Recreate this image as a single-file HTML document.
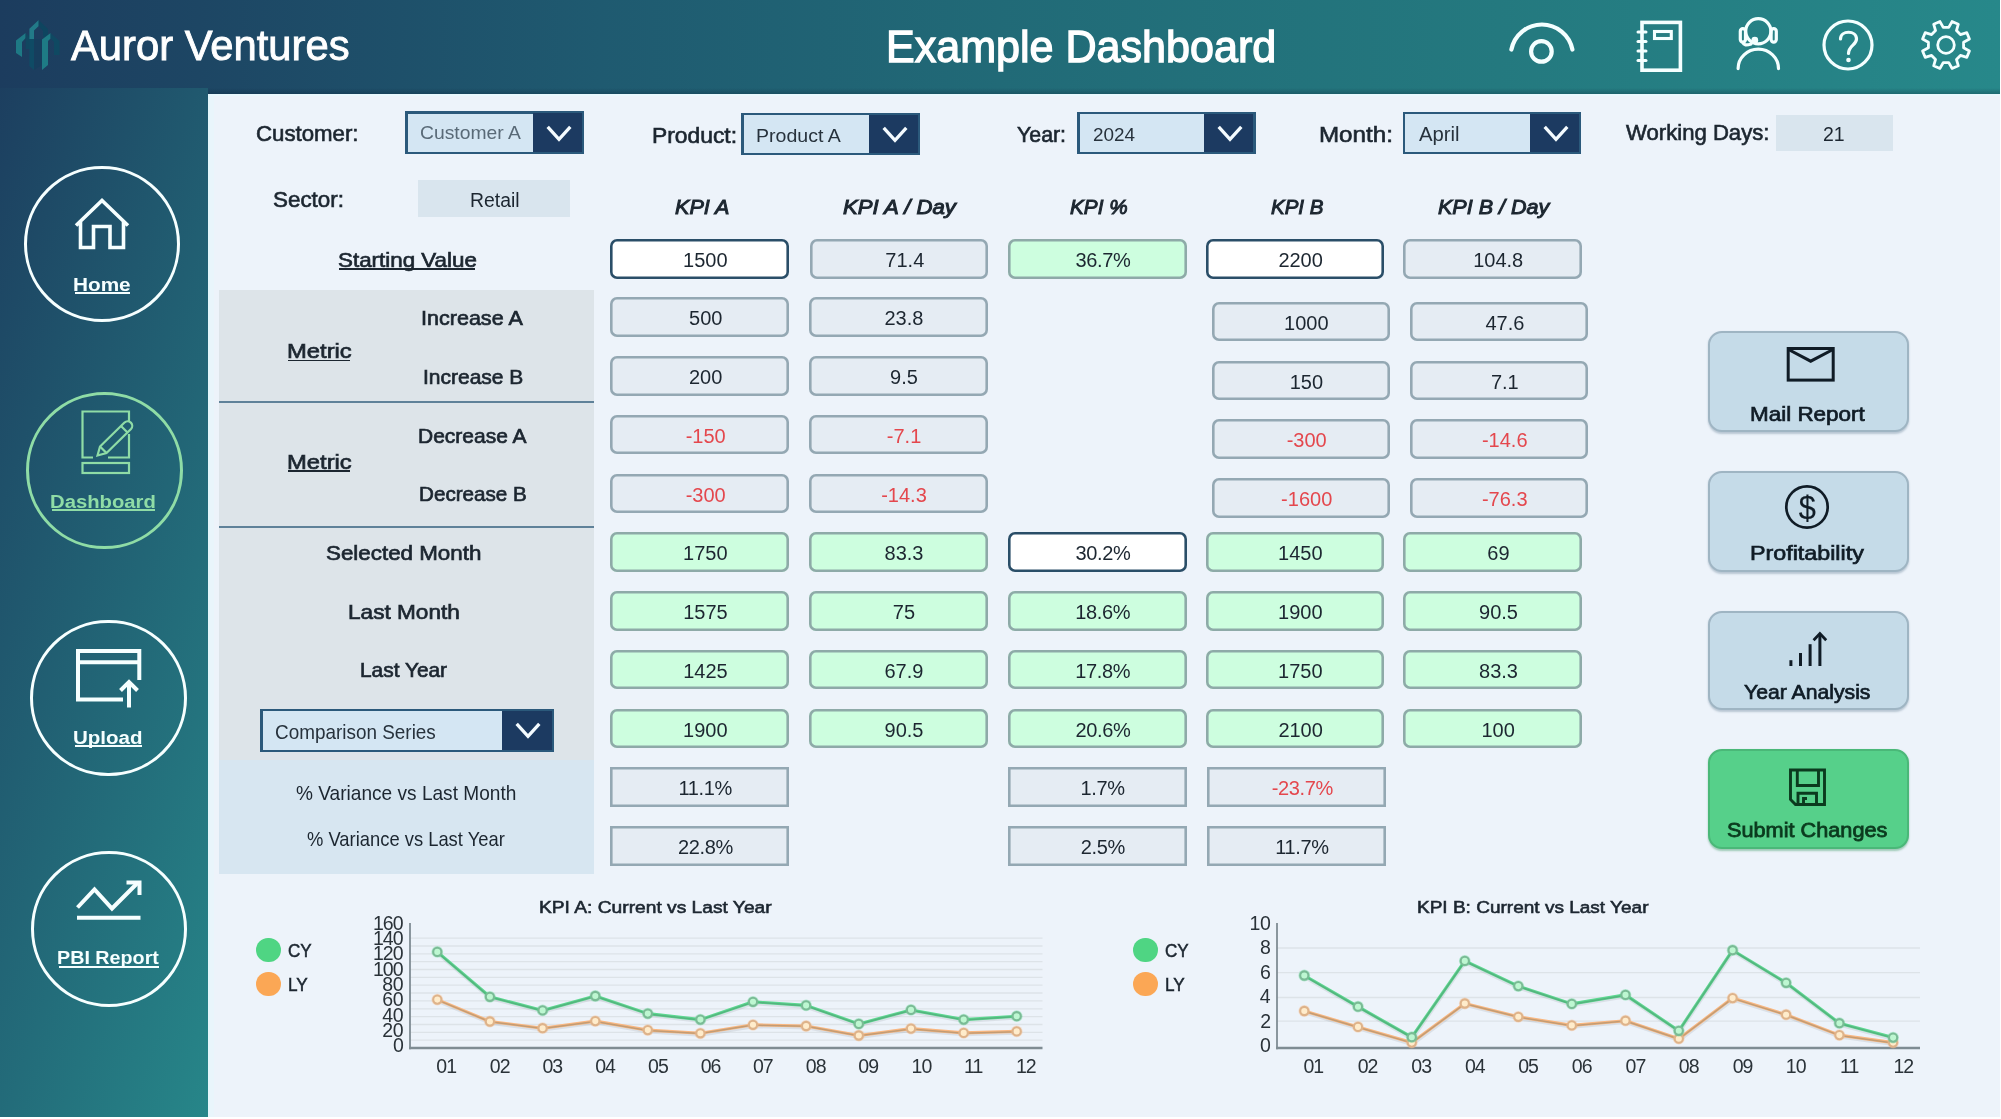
<!DOCTYPE html>
<html lang="en"><head><meta charset="utf-8"><title>Example Dashboard</title>
<style>
html,body{margin:0;padding:0;background:#fff;}
body{width:2001px;height:1119px;position:relative;overflow:hidden;font-family:"Liberation Sans", sans-serif;}
.r{position:absolute;box-sizing:content-box;}
.t{position:absolute;white-space:nowrap;font-family:"Liberation Sans", sans-serif;}
</style></head><body><div id="app" style="position:absolute;left:0;top:0;width:2001px;height:1119px;filter:blur(0.55px);">
<div class="r" style="left:208.00px;top:93.00px;width:1792.00px;height:1024.00px;background:#edf3fa;"></div>
<div class="r" style="left:0;top:0;width:2000px;height:93.5px;background:linear-gradient(90deg,#1c3c5e 0%,#1f5a70 30%,#216a77 50%,#24797f 75%,#27888a 100%)"></div>
<div class="r" style="left:0;top:88px;width:208px;height:1029px;background:linear-gradient(108.8deg,#1c3c5e -3.8%,#27888a 102.7%)"></div>
<div class="r" style="left:208px;top:88px;width:1792px;height:5.5px;background:linear-gradient(180deg,rgba(8,30,50,0) 0%,rgba(8,30,50,.28) 100%)"></div>
<div class="r" style="left:208.00px;top:93.50px;width:1792.00px;height:2.00px;background:#e9f8fd;"></div>
<div class="r" style="left:208.00px;top:93.50px;width:2.00px;height:1023.50px;background:#e4f6fb;"></div>
<div class="r" style="left:210.00px;top:95.50px;width:4.00px;height:1021.50px;background:#e9f5fb;"></div>
<svg class="r" style="left:16.00px;top:19.00px;filter:blur(0.7px);opacity:.93;" width="46" height="54" viewBox="0 0 46 54">
<polygon points="0,21.5 9.6,14 9.6,19 6,23 6,38 0,34" fill="#1f7e88"/>
<polygon points="9.6,14 14,18 14,30 9.6,30" fill="#0f4a62" opacity="0.9"/>
<polygon points="13.4,9.7 22.7,1 22.7,7 18,11.5 18,20 13.4,20" fill="#237f8c"/>
<polygon points="13.4,20 18,20 18,51 13.4,47" fill="#0f4d66"/>
<polygon points="22.7,1 32,10 32,22 27,17 27,12 22.7,7" fill="#0e4660"/>
<polygon points="18,20 26,20 26,46 18,51" fill="#123f5c" opacity="0.6"/>
<polygon points="26,20.4 34.6,14 34.6,19.5 32,22 32,46 26,51" fill="#1f8088"/>
<polygon points="34.6,14 43.5,22 43.5,36 38,36 38,23 34.6,19.5" fill="#0f4a63"/>
</svg>
<span class="t" style="left:71.03px;top:20.80px;font-size:42.7px;line-height:48px;color:#ffffff;-webkit-text-stroke:0.9px #ffffff;transform:scaleX(0.9781);transform-origin:0 50%;">Auror Ventures</span>
<span class="t" style="left:885.53px;top:23.00px;font-size:43.5px;line-height:48px;color:#ffffff;-webkit-text-stroke:1.3px #ffffff;transform:scaleX(0.9900);transform-origin:0 50%;">Example Dashboard</span>
<svg class="r" style="left:1505.50px;top:20.00px;" width="72" height="50" viewBox="0 0 72 50"><path d="M 5.4 29.5 A 31.1 31.1 0 0 1 66.4 29.5" fill="none" stroke="#f4ffff" stroke-width="4.2" stroke-linecap="round"/>
<circle cx="35.4" cy="31.4" r="10.3" fill="none" stroke="#f4ffff" stroke-width="4.2"/></svg>
<svg class="r" style="left:1636.00px;top:20.00px;" width="50" height="54" viewBox="0 0 50 54"><rect x="6" y="2.4" width="38.4" height="47.8" fill="none" stroke="#f4ffff" stroke-width="3.6"/>
<rect x="18.5" y="11.5" width="16.8" height="7" fill="none" stroke="#f4ffff" stroke-width="3.1"/>
<g stroke="#f4ffff" stroke-width="3" stroke-linecap="round"><line x1="2" y1="12" x2="10" y2="12"/><line x1="2" y1="21.4" x2="10" y2="21.4"/><line x1="2" y1="31" x2="10" y2="31"/><line x1="2" y1="40.5" x2="10" y2="40.5"/></g></svg>
<svg class="r" style="left:1734.00px;top:16.00px;" width="50" height="56" viewBox="0 0 50 56"><g fill="none" stroke="#f4ffff" stroke-width="3.2" stroke-linecap="round">
<circle cx="24.3" cy="15.3" r="12.6"/>
<rect x="6.3" y="12.6" width="5.2" height="13.6" rx="2.6"/>
<rect x="37.1" y="12.6" width="5.2" height="13.6" rx="2.6"/>
<path d="M 9 26.5 Q 10 30.5 17 28"/>
<path d="M 4.1 52.6 A 20.2 19.4 0 0 1 44.5 52.6"/>
</g><circle cx="20.8" cy="24.2" r="3.4" fill="#f4ffff"/></svg>
<svg class="r" style="left:1820.50px;top:17.50px;" width="54" height="54" viewBox="0 0 54 54"><circle cx="27" cy="27" r="24" fill="none" stroke="#f4ffff" stroke-width="3.2"/>
<path d="M 19.5 21 C 19.5 12 35.5 12 35.5 21 C 35.5 27 27.5 27.5 27.5 35.5" fill="none" stroke="#f4ffff" stroke-width="3.2" stroke-linecap="round"/>
<circle cx="27.5" cy="42" r="2.3" fill="#f4ffff"/></svg>
<svg class="r" style="left:1918.80px;top:17.50px;" width="54" height="54" viewBox="0 0 54 54"><polygon points="29.78,9.42 33.02,3.56 39.32,6.17 37.46,12.60 41.40,16.54 47.83,14.68 50.44,20.98 44.58,24.22 44.58,29.78 50.44,33.02 47.83,39.32 41.40,37.46 37.46,41.40 39.32,47.83 33.02,50.44 29.78,44.58 24.22,44.58 20.98,50.44 14.68,47.83 16.54,41.40 12.60,37.46 6.17,39.32 3.56,33.02 9.42,29.78 9.42,24.22 3.56,20.98 6.17,14.68 12.60,16.54 16.54,12.60 14.68,6.17 20.98,3.56 24.22,9.42" fill="none" stroke="#f4ffff" stroke-width="2.8" stroke-linejoin="round"/>
<circle cx="27" cy="27" r="8.3" fill="none" stroke="#f4ffff" stroke-width="2.8"/></svg>
<div class="r" style="left:24.40px;top:165.50px;width:150.00px;height:150.00px;border:3px solid #f6ffff;border-radius:156px;"></div>
<svg class="r" style="left:73.00px;top:197.50px;" width="58" height="54" viewBox="0 0 58 54"><path d="M 3 27.5 L 29 2.5 L 55 27.5 M 7.5 24 L 7.5 49.5 L 20.5 49.5 L 20.5 28.5 L 37 28.5 L 37 49.5 L 50.5 49.5 L 50.5 24" fill="none" stroke="#f6ffff" stroke-width="3.6" stroke-linejoin="miter" stroke-linecap="butt"/></svg>
<span class="t" style="left:73.29px;top:273.60px;font-size:19.2px;line-height:21px;color:#f6ffff;font-weight:bold;transform:scaleX(1.0816);transform-origin:0 50%;">Home</span>
<div class="r" style="left:74.70px;top:292.20px;width:55.70px;height:1.80px;background:#f6ffff"></div>
<div class="r" style="left:25.50px;top:392.30px;width:151.00px;height:151.00px;border:3px solid #8fdca6;border-radius:157px;"></div>
<svg class="r" style="left:81.00px;top:409.50px;" width="56" height="66" viewBox="0 0 56 66"><g fill="none" stroke="#8fdca6" stroke-width="2.2">
<path d="M 48 12 L 48 1.5 L 1.5 1.5 L 1.5 47.5 L 12 47.5 M 27 47.5 L 48 47.5 L 48 24"/>
<rect x="1.5" y="53" width="46.5" height="10"/>
<path d="M 16.5 45.5 L 19 36.5 L 43.5 12.5 A 4.6 4.6 0 0 1 50 19 L 25.5 43 Z"/>
<path d="M 19 36.5 L 25.5 43 M 40 16 L 46.5 22.5"/>
</g></svg>
<span class="t" style="left:50.43px;top:490.70px;font-size:19.2px;line-height:21px;color:#8fdca6;font-weight:bold;transform:scaleX(1.0561);transform-origin:0 50%;">Dashboard</span>
<div class="r" style="left:51.80px;top:509.30px;width:103.50px;height:1.80px;background:#8fdca6"></div>
<div class="r" style="left:30.20px;top:619.70px;width:150.60px;height:150.60px;border:3px solid #f6ffff;border-radius:156.6px;"></div>
<svg class="r" style="left:75.90px;top:648.70px;" width="68" height="62" viewBox="0 0 68 62"><g fill="none" stroke="#f6ffff" stroke-width="4" stroke-linecap="butt">
<path d="M 47 50.6 L 2 50.6 L 2 2 L 63.3 2 L 63.3 31"/>
<path d="M 2 13.2 L 63.3 13.2"/>
<path d="M 53 58.5 L 53 34"/>
<path d="M 44.5 41.5 L 53 33 L 61.5 41.5" stroke-linejoin="miter"/>
</g></svg>
<span class="t" style="left:73.44px;top:726.50px;font-size:19.2px;line-height:21px;color:#f6ffff;font-weight:bold;transform:scaleX(1.0693);transform-origin:0 50%;">Upload</span>
<div class="r" style="left:74.70px;top:745.30px;width:67.10px;height:1.80px;background:#f6ffff"></div>
<div class="r" style="left:30.50px;top:850.60px;width:150.00px;height:150.00px;border:3px solid #f6ffff;border-radius:156px;"></div>
<svg class="r" style="left:75.50px;top:878.00px;" width="68" height="46" viewBox="0 0 68 46"><g fill="none" stroke="#f6ffff" stroke-width="4" stroke-linecap="butt">
<path d="M 1 39.7 L 64.5 39.7"/>
<path d="M 1.5 29.5 L 18.5 11.5 L 36 30.5 L 61.5 5" stroke-linejoin="miter"/>
<path d="M 50.5 4.5 L 63.5 4.5 L 63.5 17" stroke-linejoin="miter"/>
</g></svg>
<span class="t" style="left:57.26px;top:947.10px;font-size:19.2px;line-height:21px;color:#f6ffff;font-weight:bold;transform:scaleX(1.0276);transform-origin:0 50%;">PBI Report</span>
<div class="r" style="left:58.60px;top:965.90px;width:100.70px;height:1.80px;background:#f6ffff"></div>
<span class="t" style="left:256.37px;top:121.00px;font-size:22.6px;line-height:25px;color:#1c2630;-webkit-text-stroke:0.65px #1c2630;transform:scaleX(0.9839);transform-origin:0 50%;">Customer:</span>
<div class="r" style="left:405.30px;top:111.00px;width:178.90px;height:43.00px;background:#2b597b;"></div>
<div class="r" style="left:407.80px;top:113.50px;width:173.90px;height:38.00px;background:#d4e6f3;"></div>
<div class="r" style="left:533.00px;top:113.00px;width:49.20px;height:39.00px;background:#1c3a61;"></div>
<svg class="r" style="left:542.90px;top:120.70px;" width="32" height="24" viewBox="0 0 32 24"><path d="M 4.7 5.9 L 16 18.3 L 27.3 5.9" fill="none" stroke="#f4fbff" stroke-width="3.3" stroke-linecap="butt" stroke-linejoin="miter"/></svg>
<span class="t" style="left:419.57px;top:122.00px;font-size:18.6px;line-height:21px;color:#596a77;transform:scaleX(1.0376);transform-origin:0 50%;">Customer A</span>
<span class="t" style="left:651.83px;top:122.50px;font-size:22.6px;line-height:25px;color:#1c2630;-webkit-text-stroke:0.65px #1c2630;transform:scaleX(1.0109);transform-origin:0 50%;">Product:</span>
<div class="r" style="left:741.00px;top:112.50px;width:178.80px;height:42.50px;background:#2b597b;"></div>
<div class="r" style="left:743.50px;top:115.00px;width:173.80px;height:37.50px;background:#d4e6f3;"></div>
<div class="r" style="left:869.00px;top:114.50px;width:48.80px;height:38.50px;background:#1c3a61;"></div>
<svg class="r" style="left:878.70px;top:121.95px;" width="32" height="24" viewBox="0 0 32 24"><path d="M 4.7 5.9 L 16 18.3 L 27.3 5.9" fill="none" stroke="#f4fbff" stroke-width="3.3" stroke-linecap="butt" stroke-linejoin="miter"/></svg>
<span class="t" style="left:756.49px;top:125.20px;font-size:19.2px;line-height:21px;color:#27323c;transform:scaleX(1.0190);transform-origin:0 50%;">Product A</span>
<span class="t" style="left:1016.50px;top:122.00px;font-size:22.6px;line-height:25px;color:#1c2630;-webkit-text-stroke:0.65px #1c2630;transform:scaleX(0.9444);transform-origin:0 50%;">Year:</span>
<div class="r" style="left:1077.00px;top:111.50px;width:178.50px;height:42.50px;background:#2b597b;"></div>
<div class="r" style="left:1079.50px;top:114.00px;width:173.50px;height:37.50px;background:#d4e6f3;"></div>
<div class="r" style="left:1204.20px;top:113.50px;width:49.30px;height:38.50px;background:#1c3a61;"></div>
<svg class="r" style="left:1214.15px;top:120.95px;" width="32" height="24" viewBox="0 0 32 24"><path d="M 4.7 5.9 L 16 18.3 L 27.3 5.9" fill="none" stroke="#f4fbff" stroke-width="3.3" stroke-linecap="butt" stroke-linejoin="miter"/></svg>
<span class="t" style="left:1093.01px;top:123.80px;font-size:19px;line-height:21px;color:#27323c;transform:scaleX(0.9939);transform-origin:0 50%;">2024</span>
<span class="t" style="left:1318.97px;top:122.00px;font-size:22.6px;line-height:25px;color:#1c2630;-webkit-text-stroke:0.65px #1c2630;transform:scaleX(1.0690);transform-origin:0 50%;">Month:</span>
<div class="r" style="left:1402.50px;top:111.50px;width:178.70px;height:42.50px;background:#2b597b;"></div>
<div class="r" style="left:1405.00px;top:114.00px;width:173.70px;height:37.50px;background:#d4e6f3;"></div>
<div class="r" style="left:1530.00px;top:113.50px;width:49.20px;height:38.50px;background:#1c3a61;"></div>
<svg class="r" style="left:1539.90px;top:120.95px;" width="32" height="24" viewBox="0 0 32 24"><path d="M 4.7 5.9 L 16 18.3 L 27.3 5.9" fill="none" stroke="#f4fbff" stroke-width="3.3" stroke-linecap="butt" stroke-linejoin="miter"/></svg>
<span class="t" style="left:1418.85px;top:123.50px;font-size:19.3px;line-height:21px;color:#27323c;transform:scaleX(1.0523);transform-origin:0 50%;">April</span>
<span class="t" style="left:1625.85px;top:120.00px;font-size:22.6px;line-height:25px;color:#1c2630;-webkit-text-stroke:0.65px #1c2630;transform:scaleX(0.9792);transform-origin:0 50%;">Working Days:</span>
<div class="r" style="left:1775.70px;top:114.50px;width:117.60px;height:36.50px;background:#d9e5ee;"></div>
<span class="t" style="left:1822.88px;top:122.75px;font-size:19.5px;line-height:22px;color:#1c2630;">21</span>
<span class="t" style="left:273.48px;top:187.00px;font-size:22.6px;line-height:25px;color:#1c2630;-webkit-text-stroke:0.65px #1c2630;transform:scaleX(0.9909);transform-origin:0 50%;">Sector:</span>
<div class="r" style="left:418.00px;top:179.50px;width:152.00px;height:37.50px;background:#d9e5ee;"></div>
<span class="t" style="left:469.58px;top:189.00px;font-size:19.5px;line-height:22px;color:#1c2630;transform:scaleX(0.9941);transform-origin:0 50%;">Retail</span>
<span class="t" style="left:674.87px;top:196.00px;font-size:20.4px;line-height:22px;color:#1c2630;font-style:italic;-webkit-text-stroke:1.0px #1c2630;transform:scaleX(1.0579);transform-origin:0 50%;">KPI A</span>
<span class="t" style="left:843.10px;top:196.00px;font-size:20.4px;line-height:22px;color:#1c2630;font-style:italic;-webkit-text-stroke:1.0px #1c2630;transform:scaleX(1.0863);transform-origin:0 50%;">KPI A / Day</span>
<span class="t" style="left:1070.39px;top:196.00px;font-size:20.4px;line-height:22px;color:#1c2630;font-style:italic;-webkit-text-stroke:1.0px #1c2630;transform:scaleX(1.0159);transform-origin:0 50%;">KPI %</span>
<span class="t" style="left:1271.40px;top:196.00px;font-size:20.4px;line-height:22px;color:#1c2630;font-style:italic;-webkit-text-stroke:1.0px #1c2630;transform:scaleX(1.0049);transform-origin:0 50%;">KPI B</span>
<span class="t" style="left:1438.07px;top:196.00px;font-size:20.4px;line-height:22px;color:#1c2630;font-style:italic;-webkit-text-stroke:1.0px #1c2630;transform:scaleX(1.0553);transform-origin:0 50%;">KPI B / Day</span>
<div class="r" style="left:218.60px;top:289.50px;width:375.40px;height:470.80px;background:#dde4e9;"></div>
<div class="r" style="left:218.60px;top:760.30px;width:375.40px;height:113.40px;background:#d7e6f1;"></div>
<div class="r" style="left:218.60px;top:400.80px;width:375.40px;height:2.20px;background:#5f8199;"></div>
<div class="r" style="left:218.60px;top:525.80px;width:375.40px;height:2.20px;background:#5f8199;"></div>
<span class="t" style="left:337.63px;top:249.00px;font-size:20.4px;line-height:22px;color:#1c2630;-webkit-text-stroke:0.68px #1c2630;transform:scaleX(1.0977);transform-origin:0 50%;">Starting Value</span>
<div class="r" style="left:338.70px;top:268.20px;width:136.80px;height:1.60px;background:#1c2630"></div>
<span class="t" style="left:421.45px;top:306.50px;font-size:20.4px;line-height:22px;color:#1c2630;-webkit-text-stroke:0.68px #1c2630;transform:scaleX(1.0564);transform-origin:0 50%;">Increase A</span>
<span class="t" style="left:422.50px;top:366.40px;font-size:20.4px;line-height:22px;color:#1c2630;-webkit-text-stroke:0.68px #1c2630;transform:scaleX(1.0296);transform-origin:0 50%;">Increase B</span>
<span class="t" style="left:286.53px;top:340.10px;font-size:20.4px;line-height:22px;color:#1c2630;-webkit-text-stroke:0.68px #1c2630;transform:scaleX(1.1662);transform-origin:0 50%;">Metric</span>
<div class="r" style="left:288.40px;top:359.50px;width:62.10px;height:1.60px;background:#1c2630"></div>
<span class="t" style="left:417.95px;top:424.70px;font-size:20.4px;line-height:22px;color:#1c2630;-webkit-text-stroke:0.68px #1c2630;transform:scaleX(1.0297);transform-origin:0 50%;">Decrease A</span>
<span class="t" style="left:419.08px;top:483.10px;font-size:20.4px;line-height:22px;color:#1c2630;-webkit-text-stroke:0.68px #1c2630;transform:scaleX(1.0120);transform-origin:0 50%;">Decrease B</span>
<span class="t" style="left:286.53px;top:451.00px;font-size:20.4px;line-height:22px;color:#1c2630;-webkit-text-stroke:0.68px #1c2630;transform:scaleX(1.1662);transform-origin:0 50%;">Metric</span>
<div class="r" style="left:288.40px;top:470.40px;width:62.10px;height:1.60px;background:#1c2630"></div>
<span class="t" style="left:326.33px;top:542.40px;font-size:20.4px;line-height:22px;color:#1c2630;-webkit-text-stroke:0.68px #1c2630;transform:scaleX(1.0966);transform-origin:0 50%;">Selected Month</span>
<span class="t" style="left:347.73px;top:600.60px;font-size:20.4px;line-height:22px;color:#1c2630;-webkit-text-stroke:0.68px #1c2630;transform:scaleX(1.1086);transform-origin:0 50%;">Last Month</span>
<span class="t" style="left:359.76px;top:659.00px;font-size:20.4px;line-height:22px;color:#1c2630;-webkit-text-stroke:0.68px #1c2630;transform:scaleX(1.0238);transform-origin:0 50%;">Last Year</span>
<div class="r" style="left:260.00px;top:708.50px;width:293.50px;height:43.50px;background:#2b597b;"></div>
<div class="r" style="left:262.50px;top:711.00px;width:288.50px;height:38.50px;background:#d4e6f3;"></div>
<div class="r" style="left:502.00px;top:710.50px;width:49.50px;height:39.50px;background:#1c3a61;"></div>
<svg class="r" style="left:512.05px;top:718.45px;" width="32" height="24" viewBox="0 0 32 24"><path d="M 4.7 5.9 L 16 18.3 L 27.3 5.9" fill="none" stroke="#f4fbff" stroke-width="3.3" stroke-linecap="butt" stroke-linejoin="miter"/></svg>
<span class="t" style="left:275.42px;top:720.70px;font-size:20.2px;line-height:22px;color:#27323c;transform:scaleX(0.9368);transform-origin:0 50%;">Comparison Series</span>
<span class="t" style="left:296.04px;top:781.60px;font-size:20.2px;line-height:22px;color:#1c2630;transform:scaleX(0.9455);transform-origin:0 50%;">% Variance vs Last Month</span>
<span class="t" style="left:307.17px;top:828.40px;font-size:20.2px;line-height:22px;color:#1c2630;transform:scaleX(0.9102);transform-origin:0 50%;">% Variance vs Last Year</span>
<div class="r" style="left:610.30px;top:239.00px;width:178.90px;height:39.60px;background:#ffffff;border-radius:7px;box-shadow:inset 0 0 0 2.6px #2a4e68;"></div>
<span class="t" style="left:683.12px;top:249.00px;font-size:20px;line-height:22px;color:#1c2630;">1500</span>
<div class="r" style="left:809.50px;top:239.00px;width:178.90px;height:39.60px;background:#e5ecf3;border-radius:7px;box-shadow:inset 0 0 0 2.6px #94a8b3;"></div>
<span class="t" style="left:885.33px;top:249.00px;font-size:20px;line-height:22px;color:#1c2630;">71.4</span>
<div class="r" style="left:1008.00px;top:239.00px;width:178.50px;height:39.60px;background:#cdfedf;border-radius:7px;box-shadow:inset 0 0 0 2.6px #8eaaa8;"></div>
<span class="t" style="left:1075.58px;top:249.00px;font-size:20px;line-height:22px;color:#1c2630;letter-spacing:-0.350px;">36.7%</span>
<div class="r" style="left:1205.50px;top:239.00px;width:178.50px;height:39.60px;background:#ffffff;border-radius:7px;box-shadow:inset 0 0 0 2.6px #2a4e68;"></div>
<span class="t" style="left:1278.38px;top:249.00px;font-size:20px;line-height:22px;color:#1c2630;">2200</span>
<div class="r" style="left:1403.00px;top:239.00px;width:179.00px;height:39.60px;background:#e5ecf3;border-radius:7px;box-shadow:inset 0 0 0 2.6px #94a8b3;"></div>
<span class="t" style="left:1473.19px;top:249.00px;font-size:20px;line-height:22px;color:#1c2630;">104.8</span>
<div class="r" style="left:610.30px;top:297.20px;width:178.90px;height:39.60px;background:#e5ecf3;border-radius:7px;box-shadow:inset 0 0 0 2.6px #94a8b3;"></div>
<span class="t" style="left:689.06px;top:307.20px;font-size:20px;line-height:22px;color:#1c2630;">500</span>
<div class="r" style="left:808.50px;top:297.20px;width:179.00px;height:39.60px;background:#e5ecf3;border-radius:7px;box-shadow:inset 0 0 0 2.6px #94a8b3;"></div>
<span class="t" style="left:884.50px;top:307.20px;font-size:20px;line-height:22px;color:#1c2630;">23.8</span>
<div class="r" style="left:1211.50px;top:301.70px;width:178.50px;height:39.60px;background:#e5ecf3;border-radius:7px;box-shadow:inset 0 0 0 2.6px #94a8b3;"></div>
<span class="t" style="left:1284.12px;top:311.70px;font-size:20px;line-height:22px;color:#1c2630;">1000</span>
<div class="r" style="left:1409.50px;top:301.70px;width:178.50px;height:39.60px;background:#e5ecf3;border-radius:7px;box-shadow:inset 0 0 0 2.6px #94a8b3;"></div>
<span class="t" style="left:1485.50px;top:311.70px;font-size:20px;line-height:22px;color:#1c2630;">47.6</span>
<div class="r" style="left:610.30px;top:356.00px;width:178.90px;height:39.60px;background:#e5ecf3;border-radius:7px;box-shadow:inset 0 0 0 2.6px #94a8b3;"></div>
<span class="t" style="left:688.94px;top:366.00px;font-size:20px;line-height:22px;color:#1c2630;">200</span>
<div class="r" style="left:808.50px;top:356.00px;width:179.00px;height:39.60px;background:#e5ecf3;border-radius:7px;box-shadow:inset 0 0 0 2.6px #94a8b3;"></div>
<span class="t" style="left:890.12px;top:366.00px;font-size:20px;line-height:22px;color:#1c2630;">9.5</span>
<div class="r" style="left:1211.50px;top:360.50px;width:178.50px;height:39.60px;background:#e5ecf3;border-radius:7px;box-shadow:inset 0 0 0 2.6px #94a8b3;"></div>
<span class="t" style="left:1289.69px;top:370.50px;font-size:20px;line-height:22px;color:#1c2630;">150</span>
<div class="r" style="left:1409.50px;top:360.50px;width:178.50px;height:39.60px;background:#e5ecf3;border-radius:7px;box-shadow:inset 0 0 0 2.6px #94a8b3;"></div>
<span class="t" style="left:1490.88px;top:370.50px;font-size:20px;line-height:22px;color:#1c2630;">7.1</span>
<div class="r" style="left:610.30px;top:414.80px;width:178.90px;height:39.60px;background:#e5ecf3;border-radius:7px;box-shadow:inset 0 0 0 2.6px #94a8b3;"></div>
<span class="t" style="left:685.69px;top:424.80px;font-size:20px;line-height:22px;color:#e4474d;">-150</span>
<div class="r" style="left:808.50px;top:414.80px;width:179.00px;height:39.60px;background:#e5ecf3;border-radius:7px;box-shadow:inset 0 0 0 2.6px #94a8b3;"></div>
<span class="t" style="left:886.81px;top:424.80px;font-size:20px;line-height:22px;color:#e4474d;">-7.1</span>
<div class="r" style="left:1211.50px;top:419.30px;width:178.50px;height:39.60px;background:#e5ecf3;border-radius:7px;box-shadow:inset 0 0 0 2.6px #94a8b3;"></div>
<span class="t" style="left:1286.69px;top:429.30px;font-size:20px;line-height:22px;color:#e4474d;">-300</span>
<div class="r" style="left:1409.50px;top:419.30px;width:178.50px;height:39.60px;background:#e5ecf3;border-radius:7px;box-shadow:inset 0 0 0 2.6px #94a8b3;"></div>
<span class="t" style="left:1481.94px;top:429.30px;font-size:20px;line-height:22px;color:#e4474d;">-14.6</span>
<div class="r" style="left:610.30px;top:473.50px;width:178.90px;height:39.60px;background:#e5ecf3;border-radius:7px;box-shadow:inset 0 0 0 2.6px #94a8b3;"></div>
<span class="t" style="left:685.69px;top:483.50px;font-size:20px;line-height:22px;color:#e4474d;">-300</span>
<div class="r" style="left:808.50px;top:473.50px;width:179.00px;height:39.60px;background:#e5ecf3;border-radius:7px;box-shadow:inset 0 0 0 2.6px #94a8b3;"></div>
<span class="t" style="left:881.19px;top:483.50px;font-size:20px;line-height:22px;color:#e4474d;">-14.3</span>
<div class="r" style="left:1211.50px;top:478.00px;width:178.50px;height:39.60px;background:#e5ecf3;border-radius:7px;box-shadow:inset 0 0 0 2.6px #94a8b3;"></div>
<span class="t" style="left:1281.12px;top:488.00px;font-size:20px;line-height:22px;color:#e4474d;">-1600</span>
<div class="r" style="left:1409.50px;top:478.00px;width:178.50px;height:39.60px;background:#e5ecf3;border-radius:7px;box-shadow:inset 0 0 0 2.6px #94a8b3;"></div>
<span class="t" style="left:1481.94px;top:488.00px;font-size:20px;line-height:22px;color:#e4474d;">-76.3</span>
<div class="r" style="left:610.30px;top:532.20px;width:178.90px;height:39.60px;background:#cdfedf;border-radius:7px;box-shadow:inset 0 0 0 2.6px #8eaaa8;"></div>
<span class="t" style="left:683.12px;top:542.20px;font-size:20px;line-height:22px;color:#1c2630;">1750</span>
<div class="r" style="left:808.50px;top:532.20px;width:179.00px;height:39.60px;background:#cdfedf;border-radius:7px;box-shadow:inset 0 0 0 2.6px #8eaaa8;"></div>
<span class="t" style="left:884.56px;top:542.20px;font-size:20px;line-height:22px;color:#1c2630;">83.3</span>
<div class="r" style="left:1008.00px;top:532.20px;width:178.50px;height:39.60px;background:#ffffff;border-radius:7px;box-shadow:inset 0 0 0 2.6px #2a4e68;"></div>
<span class="t" style="left:1075.58px;top:542.20px;font-size:20px;line-height:22px;color:#1c2630;letter-spacing:-0.350px;">30.2%</span>
<div class="r" style="left:1205.50px;top:532.20px;width:178.50px;height:39.60px;background:#cdfedf;border-radius:7px;box-shadow:inset 0 0 0 2.6px #8eaaa8;"></div>
<span class="t" style="left:1278.12px;top:542.20px;font-size:20px;line-height:22px;color:#1c2630;">1450</span>
<div class="r" style="left:1403.00px;top:532.20px;width:179.00px;height:39.60px;background:#cdfedf;border-radius:7px;box-shadow:inset 0 0 0 2.6px #8eaaa8;"></div>
<span class="t" style="left:1487.31px;top:542.20px;font-size:20px;line-height:22px;color:#1c2630;">69</span>
<div class="r" style="left:610.30px;top:591.00px;width:178.90px;height:39.60px;background:#cdfedf;border-radius:7px;box-shadow:inset 0 0 0 2.6px #8eaaa8;"></div>
<span class="t" style="left:683.19px;top:601.00px;font-size:20px;line-height:22px;color:#1c2630;">1575</span>
<div class="r" style="left:808.50px;top:591.00px;width:179.00px;height:39.60px;background:#cdfedf;border-radius:7px;box-shadow:inset 0 0 0 2.6px #8eaaa8;"></div>
<span class="t" style="left:892.81px;top:601.00px;font-size:20px;line-height:22px;color:#1c2630;">75</span>
<div class="r" style="left:1008.00px;top:591.00px;width:178.50px;height:39.60px;background:#cdfedf;border-radius:7px;box-shadow:inset 0 0 0 2.6px #8eaaa8;"></div>
<span class="t" style="left:1075.20px;top:601.00px;font-size:20px;line-height:22px;color:#1c2630;letter-spacing:-0.350px;">18.6%</span>
<div class="r" style="left:1205.50px;top:591.00px;width:178.50px;height:39.60px;background:#cdfedf;border-radius:7px;box-shadow:inset 0 0 0 2.6px #8eaaa8;"></div>
<span class="t" style="left:1278.12px;top:601.00px;font-size:20px;line-height:22px;color:#1c2630;">1900</span>
<div class="r" style="left:1403.00px;top:591.00px;width:179.00px;height:39.60px;background:#cdfedf;border-radius:7px;box-shadow:inset 0 0 0 2.6px #8eaaa8;"></div>
<span class="t" style="left:1479.06px;top:601.00px;font-size:20px;line-height:22px;color:#1c2630;">90.5</span>
<div class="r" style="left:610.30px;top:649.70px;width:178.90px;height:39.60px;background:#cdfedf;border-radius:7px;box-shadow:inset 0 0 0 2.6px #8eaaa8;"></div>
<span class="t" style="left:683.19px;top:659.70px;font-size:20px;line-height:22px;color:#1c2630;">1425</span>
<div class="r" style="left:808.50px;top:649.70px;width:179.00px;height:39.60px;background:#cdfedf;border-radius:7px;box-shadow:inset 0 0 0 2.6px #8eaaa8;"></div>
<span class="t" style="left:884.50px;top:659.70px;font-size:20px;line-height:22px;color:#1c2630;">67.9</span>
<div class="r" style="left:1008.00px;top:649.70px;width:178.50px;height:39.60px;background:#cdfedf;border-radius:7px;box-shadow:inset 0 0 0 2.6px #8eaaa8;"></div>
<span class="t" style="left:1075.20px;top:659.70px;font-size:20px;line-height:22px;color:#1c2630;letter-spacing:-0.350px;">17.8%</span>
<div class="r" style="left:1205.50px;top:649.70px;width:178.50px;height:39.60px;background:#cdfedf;border-radius:7px;box-shadow:inset 0 0 0 2.6px #8eaaa8;"></div>
<span class="t" style="left:1278.12px;top:659.70px;font-size:20px;line-height:22px;color:#1c2630;">1750</span>
<div class="r" style="left:1403.00px;top:649.70px;width:179.00px;height:39.60px;background:#cdfedf;border-radius:7px;box-shadow:inset 0 0 0 2.6px #8eaaa8;"></div>
<span class="t" style="left:1479.06px;top:659.70px;font-size:20px;line-height:22px;color:#1c2630;">83.3</span>
<div class="r" style="left:610.30px;top:708.50px;width:178.90px;height:39.60px;background:#cdfedf;border-radius:7px;box-shadow:inset 0 0 0 2.6px #8eaaa8;"></div>
<span class="t" style="left:683.12px;top:718.50px;font-size:20px;line-height:22px;color:#1c2630;">1900</span>
<div class="r" style="left:808.50px;top:708.50px;width:179.00px;height:39.60px;background:#cdfedf;border-radius:7px;box-shadow:inset 0 0 0 2.6px #8eaaa8;"></div>
<span class="t" style="left:884.56px;top:718.50px;font-size:20px;line-height:22px;color:#1c2630;">90.5</span>
<div class="r" style="left:1008.00px;top:708.50px;width:178.50px;height:39.60px;background:#cdfedf;border-radius:7px;box-shadow:inset 0 0 0 2.6px #8eaaa8;"></div>
<span class="t" style="left:1075.45px;top:718.50px;font-size:20px;line-height:22px;color:#1c2630;letter-spacing:-0.350px;">20.6%</span>
<div class="r" style="left:1205.50px;top:708.50px;width:178.50px;height:39.60px;background:#cdfedf;border-radius:7px;box-shadow:inset 0 0 0 2.6px #8eaaa8;"></div>
<span class="t" style="left:1278.38px;top:718.50px;font-size:20px;line-height:22px;color:#1c2630;">2100</span>
<div class="r" style="left:1403.00px;top:708.50px;width:179.00px;height:39.60px;background:#cdfedf;border-radius:7px;box-shadow:inset 0 0 0 2.6px #8eaaa8;"></div>
<span class="t" style="left:1481.44px;top:718.50px;font-size:20px;line-height:22px;color:#1c2630;">100</span>
<div class="r" style="left:610.30px;top:767.20px;width:178.90px;height:39.60px;background:#e5ecf3;box-shadow:inset 0 0 0 2.6px #94a8b3;"></div>
<span class="t" style="left:678.39px;top:777.20px;font-size:20px;line-height:22px;color:#1c2630;letter-spacing:-0.350px;">11.1%</span>
<div class="r" style="left:1008.00px;top:767.20px;width:178.50px;height:39.60px;background:#e5ecf3;box-shadow:inset 0 0 0 2.6px #94a8b3;"></div>
<span class="t" style="left:1080.59px;top:777.20px;font-size:20px;line-height:22px;color:#1c2630;letter-spacing:-0.350px;">1.7%</span>
<div class="r" style="left:1207.20px;top:767.20px;width:178.80px;height:39.60px;background:#e5ecf3;box-shadow:inset 0 0 0 2.6px #94a8b3;"></div>
<span class="t" style="left:1271.66px;top:777.20px;font-size:20px;line-height:22px;color:#e4474d;letter-spacing:-0.350px;">-23.7%</span>
<div class="r" style="left:610.30px;top:826.00px;width:178.90px;height:39.60px;background:#e5ecf3;box-shadow:inset 0 0 0 2.6px #94a8b3;"></div>
<span class="t" style="left:677.95px;top:836.00px;font-size:20px;line-height:22px;color:#1c2630;letter-spacing:-0.350px;">22.8%</span>
<div class="r" style="left:1008.00px;top:826.00px;width:178.50px;height:39.60px;background:#e5ecf3;box-shadow:inset 0 0 0 2.6px #94a8b3;"></div>
<span class="t" style="left:1080.84px;top:836.00px;font-size:20px;line-height:22px;color:#1c2630;letter-spacing:-0.350px;">2.5%</span>
<div class="r" style="left:1207.20px;top:826.00px;width:178.80px;height:39.60px;background:#e5ecf3;box-shadow:inset 0 0 0 2.6px #94a8b3;"></div>
<span class="t" style="left:1275.24px;top:836.00px;font-size:20px;line-height:22px;color:#1c2630;letter-spacing:-0.350px;">11.7%</span>
<div class="r" style="left:1707.80px;top:331.20px;width:196.80px;height:97.00px;background:#c5dbe8;border:2px solid #9fb5c3;border-radius:14px;box-shadow:0 1.5px 2px rgba(120,145,165,.45);"></div>
<svg class="r" style="left:1784.00px;top:344.00px;" width="54" height="42" viewBox="0 0 54 42"><rect x="4.2" y="4.5" width="45" height="31.6" fill="none" stroke="#101c26" stroke-width="3"/><path d="M 4.5 5.5 L 26.7 17.2 L 49 5.5" fill="none" stroke="#101c26" stroke-width="3"/></svg>
<span class="t" style="left:1749.90px;top:401.50px;font-size:20.6px;line-height:23px;color:#101c26;-webkit-text-stroke:0.7px #101c26;transform:scaleX(1.0901);transform-origin:0 50%;">Mail Report</span>
<div class="r" style="left:1707.80px;top:471.00px;width:196.80px;height:96.60px;background:#c5dbe8;border:2px solid #9fb5c3;border-radius:14px;box-shadow:0 1.5px 2px rgba(120,145,165,.45);"></div>
<svg class="r" style="left:1782.00px;top:482.30px;" width="50" height="50" viewBox="0 0 50 50"><circle cx="25" cy="25" r="20.7" fill="none" stroke="#101c26" stroke-width="2.7"/></svg>
<span class="t" style="left:1797.97px;top:489.20px;font-size:33px;line-height:37px;color:#101c26;-webkit-text-stroke:0.2px #101c26;transform:scaleX(0.93);transform-origin:50% 50%;">$</span>
<span class="t" style="left:1750.14px;top:540.70px;font-size:20.6px;line-height:23px;color:#101c26;-webkit-text-stroke:0.7px #101c26;transform:scaleX(1.1299);transform-origin:0 50%;">Profitability</span>
<div class="r" style="left:1707.80px;top:610.50px;width:196.80px;height:95.80px;background:#c5dbe8;border:2px solid #9fb5c3;border-radius:14px;box-shadow:0 1.5px 2px rgba(120,145,165,.45);"></div>
<svg class="r" style="left:1784.50px;top:629.00px;" width="46" height="40" viewBox="0 0 46 40"><g fill="none" stroke="#101c26" stroke-width="3" stroke-linecap="butt">
<path d="M 5.9 31.2 L 5.9 37"/><path d="M 15.5 24 L 15.5 37"/><path d="M 25.1 15.2 L 25.1 37"/><path d="M 34.9 5 L 34.9 37"/>
<path d="M 28.6 11.2 L 34.9 4.6 L 41.2 11.2" stroke-linejoin="miter" stroke-width="2.8"/></g></svg>
<span class="t" style="left:1744.46px;top:680.40px;font-size:20.6px;line-height:23px;color:#101c26;-webkit-text-stroke:0.7px #101c26;transform:scaleX(1.0289);transform-origin:0 50%;">Year Analysis</span>
<div class="r" style="left:1707.80px;top:749.00px;width:196.80px;height:96.20px;background:#56d08a;border:2px solid #4ab878;border-radius:14px;box-shadow:0 1.5px 2px rgba(60,150,100,.45);"></div>
<svg class="r" style="left:1787.50px;top:768.30px;" width="40" height="40" viewBox="0 0 40 40"><g fill="none" stroke="#0b3a1e" stroke-width="2.9" stroke-linejoin="miter">
<path d="M 2.5 2 L 36.5 2 L 36.5 36.5 L 7.5 36.5 L 2.5 31.5 Z"/>
<path d="M 9.3 2 L 9.3 17.5 L 30.5 17.5 L 30.5 2"/>
<path d="M 10 36.5 L 10 25.3 L 28.5 25.3 L 28.5 36.5"/>
<path d="M 15.5 36.5 L 15.5 30.5 L 19 30.5"/></g></svg>
<span class="t" style="left:1727.26px;top:819.00px;font-size:20.4px;line-height:22px;color:#0b3a1e;-webkit-text-stroke:0.8px #0b3a1e;transform:scaleX(1.0638);transform-origin:0 50%;">Submit Changes</span>
<div class="r" style="left:256.40px;top:937.90px;width:24.60px;height:24.60px;background:#4fd583;border-radius:13px;"></div>
<div class="r" style="left:256.40px;top:971.70px;width:24.60px;height:24.60px;background:#fba755;border-radius:13px;"></div>
<span class="t" style="left:288.27px;top:941.00px;font-size:18px;line-height:20px;color:#1c2630;-webkit-text-stroke:0.5px #1c2630;transform:scaleX(0.9474);transform-origin:0 50%;">CY</span>
<span class="t" style="left:287.97px;top:975.00px;font-size:18px;line-height:20px;color:#1c2630;-webkit-text-stroke:0.5px #1c2630;transform:scaleX(0.9547);transform-origin:0 50%;">LY</span>
<span class="t" style="left:538.71px;top:897.20px;font-size:17.4px;line-height:20px;color:#1c2630;-webkit-text-stroke:0.6px #1c2630;transform:scaleX(1.1040);transform-origin:0 50%;">KPI A: Current vs Last Year</span>
<span class="t" style="left:392.88px;top:1034.20px;font-size:19.5px;line-height:22px;color:#2a3238;letter-spacing:-0.300px;">0</span>
<span class="t" style="left:382.30px;top:1018.89px;font-size:19.5px;line-height:22px;color:#2a3238;letter-spacing:-0.300px;">20</span>
<span class="t" style="left:382.30px;top:1003.58px;font-size:19.5px;line-height:22px;color:#2a3238;letter-spacing:-0.300px;">40</span>
<span class="t" style="left:382.30px;top:988.27px;font-size:19.5px;line-height:22px;color:#2a3238;letter-spacing:-0.300px;">60</span>
<span class="t" style="left:382.30px;top:972.96px;font-size:19.5px;line-height:22px;color:#2a3238;letter-spacing:-0.300px;">80</span>
<span class="t" style="left:372.93px;top:957.65px;font-size:19.5px;line-height:22px;color:#2a3238;letter-spacing:-0.900px;">100</span>
<span class="t" style="left:372.93px;top:942.34px;font-size:19.5px;line-height:22px;color:#2a3238;letter-spacing:-0.900px;">120</span>
<span class="t" style="left:372.93px;top:927.03px;font-size:19.5px;line-height:22px;color:#2a3238;letter-spacing:-0.900px;">140</span>
<span class="t" style="left:372.93px;top:911.72px;font-size:19.5px;line-height:22px;color:#2a3238;letter-spacing:-0.900px;">160</span>
<span class="t" style="left:436.35px;top:1055.20px;font-size:19.5px;line-height:22px;color:#2a3238;letter-spacing:-1.000px;">01</span>
<span class="t" style="left:489.85px;top:1055.20px;font-size:19.5px;line-height:22px;color:#2a3238;letter-spacing:-1.000px;">02</span>
<span class="t" style="left:542.49px;top:1055.20px;font-size:19.5px;line-height:22px;color:#2a3238;letter-spacing:-1.000px;">03</span>
<span class="t" style="left:595.26px;top:1055.20px;font-size:19.5px;line-height:22px;color:#2a3238;letter-spacing:-1.000px;">04</span>
<span class="t" style="left:648.09px;top:1055.20px;font-size:19.5px;line-height:22px;color:#2a3238;letter-spacing:-1.000px;">05</span>
<span class="t" style="left:700.69px;top:1055.20px;font-size:19.5px;line-height:22px;color:#2a3238;letter-spacing:-1.000px;">06</span>
<span class="t" style="left:752.95px;top:1055.20px;font-size:19.5px;line-height:22px;color:#2a3238;letter-spacing:-1.000px;">07</span>
<span class="t" style="left:805.79px;top:1055.20px;font-size:19.5px;line-height:22px;color:#2a3238;letter-spacing:-1.000px;">08</span>
<span class="t" style="left:858.35px;top:1055.20px;font-size:19.5px;line-height:22px;color:#2a3238;letter-spacing:-1.000px;">09</span>
<span class="t" style="left:911.55px;top:1055.20px;font-size:19.5px;line-height:22px;color:#2a3238;letter-spacing:-1.000px;">10</span>
<span class="t" style="left:964.02px;top:1055.20px;font-size:19.5px;line-height:22px;color:#2a3238;letter-spacing:-1.000px;">11</span>
<span class="t" style="left:1015.88px;top:1055.20px;font-size:19.5px;line-height:22px;color:#2a3238;letter-spacing:-1.000px;">12</span>
<svg class="r" style="left:400.10px;top:915.00px;" width="648.5" height="145" viewBox="0 0 648.5 145"><line x1="10.0" y1="125.2" x2="642.5" y2="125.2" stroke="#dde3e8" stroke-width="1.3"/><line x1="10.0" y1="117.3" x2="642.5" y2="117.3" stroke="#dde3e8" stroke-width="1.3"/><line x1="10.0" y1="109.5" x2="642.5" y2="109.5" stroke="#dde3e8" stroke-width="1.3"/><line x1="10.0" y1="101.6" x2="642.5" y2="101.6" stroke="#dde3e8" stroke-width="1.3"/><line x1="10.0" y1="93.8" x2="642.5" y2="93.8" stroke="#dde3e8" stroke-width="1.3"/><line x1="10.0" y1="85.9" x2="642.5" y2="85.9" stroke="#dde3e8" stroke-width="1.3"/><line x1="10.0" y1="78.0" x2="642.5" y2="78.0" stroke="#dde3e8" stroke-width="1.3"/><line x1="10.0" y1="70.2" x2="642.5" y2="70.2" stroke="#dde3e8" stroke-width="1.3"/><line x1="10.0" y1="62.4" x2="642.5" y2="62.4" stroke="#dde3e8" stroke-width="1.3"/><line x1="10.0" y1="54.5" x2="642.5" y2="54.5" stroke="#dde3e8" stroke-width="1.3"/><line x1="10.0" y1="46.6" x2="642.5" y2="46.6" stroke="#dde3e8" stroke-width="1.3"/><line x1="10.0" y1="38.8" x2="642.5" y2="38.8" stroke="#dde3e8" stroke-width="1.3"/><line x1="10.0" y1="31.0" x2="642.5" y2="31.0" stroke="#dde3e8" stroke-width="1.3"/><line x1="10.0" y1="23.1" x2="642.5" y2="23.1" stroke="#dde3e8" stroke-width="1.3"/><line x1="10.0" y1="8.0" x2="10.0" y2="134.2" stroke="#7f8c93" stroke-width="1.8"/><line x1="9.1" y1="133.0" x2="642.5" y2="133.0" stroke="#7f8c93" stroke-width="2.6"/><polyline points="37.3,84.6 89.9,106.5 142.6,113.2 195.3,106.1 247.8,115.1 300.4,118.3 353.0,109.8 406.1,111.0 458.8,120.5 511.0,113.6 563.7,117.9 616.7,116.4" fill="none" stroke="rgba(90,100,110,.13)" stroke-width="3.4" transform="translate(0.4,1.7)"/><polyline points="37.3,84.6 89.9,106.5 142.6,113.2 195.3,106.1 247.8,115.1 300.4,118.3 353.0,109.8 406.1,111.0 458.8,120.5 511.0,113.6 563.7,117.9 616.7,116.4" fill="none" stroke="#f9b781" stroke-width="3.1" stroke-linejoin="round"/><polyline points="37.3,84.6 89.9,106.5 142.6,113.2 195.3,106.1 247.8,115.1 300.4,118.3 353.0,109.8 406.1,111.0 458.8,120.5 511.0,113.6 563.7,117.9 616.7,116.4" fill="none" stroke="rgba(70,95,85,.30)" stroke-width="1.5" stroke-linejoin="round" transform="translate(0,0.3)"/><circle cx="37.3" cy="84.6" r="5.9" fill="#f9b781" opacity=".38"/><circle cx="37.3" cy="84.6" r="4.1" fill="#ffeccb" stroke="#deb38a" stroke-width="2.1"/><circle cx="89.9" cy="106.5" r="5.9" fill="#f9b781" opacity=".38"/><circle cx="89.9" cy="106.5" r="4.1" fill="#ffeccb" stroke="#deb38a" stroke-width="2.1"/><circle cx="142.6" cy="113.2" r="5.9" fill="#f9b781" opacity=".38"/><circle cx="142.6" cy="113.2" r="4.1" fill="#ffeccb" stroke="#deb38a" stroke-width="2.1"/><circle cx="195.3" cy="106.1" r="5.9" fill="#f9b781" opacity=".38"/><circle cx="195.3" cy="106.1" r="4.1" fill="#ffeccb" stroke="#deb38a" stroke-width="2.1"/><circle cx="247.8" cy="115.1" r="5.9" fill="#f9b781" opacity=".38"/><circle cx="247.8" cy="115.1" r="4.1" fill="#ffeccb" stroke="#deb38a" stroke-width="2.1"/><circle cx="300.4" cy="118.3" r="5.9" fill="#f9b781" opacity=".38"/><circle cx="300.4" cy="118.3" r="4.1" fill="#ffeccb" stroke="#deb38a" stroke-width="2.1"/><circle cx="353.0" cy="109.8" r="5.9" fill="#f9b781" opacity=".38"/><circle cx="353.0" cy="109.8" r="4.1" fill="#ffeccb" stroke="#deb38a" stroke-width="2.1"/><circle cx="406.1" cy="111.0" r="5.9" fill="#f9b781" opacity=".38"/><circle cx="406.1" cy="111.0" r="4.1" fill="#ffeccb" stroke="#deb38a" stroke-width="2.1"/><circle cx="458.8" cy="120.5" r="5.9" fill="#f9b781" opacity=".38"/><circle cx="458.8" cy="120.5" r="4.1" fill="#ffeccb" stroke="#deb38a" stroke-width="2.1"/><circle cx="511.0" cy="113.6" r="5.9" fill="#f9b781" opacity=".38"/><circle cx="511.0" cy="113.6" r="4.1" fill="#ffeccb" stroke="#deb38a" stroke-width="2.1"/><circle cx="563.7" cy="117.9" r="5.9" fill="#f9b781" opacity=".38"/><circle cx="563.7" cy="117.9" r="4.1" fill="#ffeccb" stroke="#deb38a" stroke-width="2.1"/><circle cx="616.7" cy="116.4" r="5.9" fill="#f9b781" opacity=".38"/><circle cx="616.7" cy="116.4" r="4.1" fill="#ffeccb" stroke="#deb38a" stroke-width="2.1"/><polyline points="37.3,36.9 89.9,81.8 142.6,95.4 195.3,81.0 247.8,98.6 300.4,104.6 353.0,86.8 406.1,90.4 458.8,108.9 511.0,94.9 563.7,104.6 616.7,101.2" fill="none" stroke="rgba(90,100,110,.13)" stroke-width="3.4" transform="translate(0.4,1.7)"/><polyline points="37.3,36.9 89.9,81.8 142.6,95.4 195.3,81.0 247.8,98.6 300.4,104.6 353.0,86.8 406.1,90.4 458.8,108.9 511.0,94.9 563.7,104.6 616.7,101.2" fill="none" stroke="#5cd890" stroke-width="3.1" stroke-linejoin="round"/><polyline points="37.3,36.9 89.9,81.8 142.6,95.4 195.3,81.0 247.8,98.6 300.4,104.6 353.0,86.8 406.1,90.4 458.8,108.9 511.0,94.9 563.7,104.6 616.7,101.2" fill="none" stroke="rgba(70,95,85,.30)" stroke-width="1.5" stroke-linejoin="round" transform="translate(0,0.3)"/><circle cx="37.3" cy="36.9" r="5.9" fill="#5cd890" opacity=".38"/><circle cx="37.3" cy="36.9" r="4.1" fill="#bdf7d1" stroke="#7abb95" stroke-width="2.1"/><circle cx="89.9" cy="81.8" r="5.9" fill="#5cd890" opacity=".38"/><circle cx="89.9" cy="81.8" r="4.1" fill="#bdf7d1" stroke="#7abb95" stroke-width="2.1"/><circle cx="142.6" cy="95.4" r="5.9" fill="#5cd890" opacity=".38"/><circle cx="142.6" cy="95.4" r="4.1" fill="#bdf7d1" stroke="#7abb95" stroke-width="2.1"/><circle cx="195.3" cy="81.0" r="5.9" fill="#5cd890" opacity=".38"/><circle cx="195.3" cy="81.0" r="4.1" fill="#bdf7d1" stroke="#7abb95" stroke-width="2.1"/><circle cx="247.8" cy="98.6" r="5.9" fill="#5cd890" opacity=".38"/><circle cx="247.8" cy="98.6" r="4.1" fill="#bdf7d1" stroke="#7abb95" stroke-width="2.1"/><circle cx="300.4" cy="104.6" r="5.9" fill="#5cd890" opacity=".38"/><circle cx="300.4" cy="104.6" r="4.1" fill="#bdf7d1" stroke="#7abb95" stroke-width="2.1"/><circle cx="353.0" cy="86.8" r="5.9" fill="#5cd890" opacity=".38"/><circle cx="353.0" cy="86.8" r="4.1" fill="#bdf7d1" stroke="#7abb95" stroke-width="2.1"/><circle cx="406.1" cy="90.4" r="5.9" fill="#5cd890" opacity=".38"/><circle cx="406.1" cy="90.4" r="4.1" fill="#bdf7d1" stroke="#7abb95" stroke-width="2.1"/><circle cx="458.8" cy="108.9" r="5.9" fill="#5cd890" opacity=".38"/><circle cx="458.8" cy="108.9" r="4.1" fill="#bdf7d1" stroke="#7abb95" stroke-width="2.1"/><circle cx="511.0" cy="94.9" r="5.9" fill="#5cd890" opacity=".38"/><circle cx="511.0" cy="94.9" r="4.1" fill="#bdf7d1" stroke="#7abb95" stroke-width="2.1"/><circle cx="563.7" cy="104.6" r="5.9" fill="#5cd890" opacity=".38"/><circle cx="563.7" cy="104.6" r="4.1" fill="#bdf7d1" stroke="#7abb95" stroke-width="2.1"/><circle cx="616.7" cy="101.2" r="5.9" fill="#5cd890" opacity=".38"/><circle cx="616.7" cy="101.2" r="4.1" fill="#bdf7d1" stroke="#7abb95" stroke-width="2.1"/></svg>
<div class="r" style="left:1133.20px;top:937.90px;width:24.60px;height:24.60px;background:#4fd583;border-radius:13px;"></div>
<div class="r" style="left:1133.20px;top:971.70px;width:24.60px;height:24.60px;background:#fba755;border-radius:13px;"></div>
<span class="t" style="left:1165.07px;top:941.00px;font-size:18px;line-height:20px;color:#1c2630;-webkit-text-stroke:0.5px #1c2630;transform:scaleX(0.9474);transform-origin:0 50%;">CY</span>
<span class="t" style="left:1164.77px;top:975.00px;font-size:18px;line-height:20px;color:#1c2630;-webkit-text-stroke:0.5px #1c2630;transform:scaleX(0.9547);transform-origin:0 50%;">LY</span>
<span class="t" style="left:1416.92px;top:897.20px;font-size:17.4px;line-height:20px;color:#1c2630;-webkit-text-stroke:0.6px #1c2630;transform:scaleX(1.0935);transform-origin:0 50%;">KPI B: Current vs Last Year</span>
<span class="t" style="left:1259.97px;top:1034.20px;font-size:19.5px;line-height:22px;color:#2a3238;letter-spacing:-0.300px;">0</span>
<span class="t" style="left:1260.22px;top:1009.70px;font-size:19.5px;line-height:22px;color:#2a3238;letter-spacing:-0.300px;">2</span>
<span class="t" style="left:1259.85px;top:985.20px;font-size:19.5px;line-height:22px;color:#2a3238;letter-spacing:-0.300px;">4</span>
<span class="t" style="left:1260.10px;top:960.70px;font-size:19.5px;line-height:22px;color:#2a3238;letter-spacing:-0.300px;">6</span>
<span class="t" style="left:1260.10px;top:936.20px;font-size:19.5px;line-height:22px;color:#2a3238;letter-spacing:-0.300px;">8</span>
<span class="t" style="left:1249.40px;top:911.70px;font-size:19.5px;line-height:22px;color:#2a3238;letter-spacing:-0.300px;">10</span>
<span class="t" style="left:1303.45px;top:1055.20px;font-size:19.5px;line-height:22px;color:#2a3238;letter-spacing:-1.000px;">01</span>
<span class="t" style="left:1357.65px;top:1055.20px;font-size:19.5px;line-height:22px;color:#2a3238;letter-spacing:-1.000px;">02</span>
<span class="t" style="left:1411.29px;top:1055.20px;font-size:19.5px;line-height:22px;color:#2a3238;letter-spacing:-1.000px;">03</span>
<span class="t" style="left:1464.96px;top:1055.20px;font-size:19.5px;line-height:22px;color:#2a3238;letter-spacing:-1.000px;">04</span>
<span class="t" style="left:1518.19px;top:1055.20px;font-size:19.5px;line-height:22px;color:#2a3238;letter-spacing:-1.000px;">05</span>
<span class="t" style="left:1571.79px;top:1055.20px;font-size:19.5px;line-height:22px;color:#2a3238;letter-spacing:-1.000px;">06</span>
<span class="t" style="left:1625.55px;top:1055.20px;font-size:19.5px;line-height:22px;color:#2a3238;letter-spacing:-1.000px;">07</span>
<span class="t" style="left:1678.79px;top:1055.20px;font-size:19.5px;line-height:22px;color:#2a3238;letter-spacing:-1.000px;">08</span>
<span class="t" style="left:1732.65px;top:1055.20px;font-size:19.5px;line-height:22px;color:#2a3238;letter-spacing:-1.000px;">09</span>
<span class="t" style="left:1785.85px;top:1055.20px;font-size:19.5px;line-height:22px;color:#2a3238;letter-spacing:-1.000px;">10</span>
<span class="t" style="left:1840.03px;top:1055.20px;font-size:19.5px;line-height:22px;color:#2a3238;letter-spacing:-1.000px;">11</span>
<span class="t" style="left:1893.38px;top:1055.20px;font-size:19.5px;line-height:22px;color:#2a3238;letter-spacing:-1.000px;">12</span>
<svg class="r" style="left:1267.20px;top:915.00px;" width="659.0" height="145" viewBox="0 0 659.0 145"><line x1="10.0" y1="106.1" x2="653.0" y2="106.1" stroke="#dde3e8" stroke-width="1.3"/><line x1="10.0" y1="82.5" x2="653.0" y2="82.5" stroke="#dde3e8" stroke-width="1.3"/><line x1="10.0" y1="57.7" x2="653.0" y2="57.7" stroke="#dde3e8" stroke-width="1.3"/><line x1="10.0" y1="33.0" x2="653.0" y2="33.0" stroke="#dde3e8" stroke-width="1.3"/><line x1="10.0" y1="8.0" x2="10.0" y2="134.2" stroke="#7f8c93" stroke-width="1.8"/><line x1="9.1" y1="133.0" x2="653.0" y2="133.0" stroke="#7f8c93" stroke-width="2.6"/><polyline points="37.3,96.0 91.0,111.9 144.8,127.6 197.8,88.5 251.3,101.8 304.8,110.4 358.5,105.7 411.8,123.7 465.6,83.1 519.1,99.7 572.4,120.1 626.1,127.6" fill="none" stroke="rgba(90,100,110,.13)" stroke-width="3.4" transform="translate(0.4,1.7)"/><polyline points="37.3,96.0 91.0,111.9 144.8,127.6 197.8,88.5 251.3,101.8 304.8,110.4 358.5,105.7 411.8,123.7 465.6,83.1 519.1,99.7 572.4,120.1 626.1,127.6" fill="none" stroke="#f9b781" stroke-width="3.1" stroke-linejoin="round"/><polyline points="37.3,96.0 91.0,111.9 144.8,127.6 197.8,88.5 251.3,101.8 304.8,110.4 358.5,105.7 411.8,123.7 465.6,83.1 519.1,99.7 572.4,120.1 626.1,127.6" fill="none" stroke="rgba(70,95,85,.30)" stroke-width="1.5" stroke-linejoin="round" transform="translate(0,0.3)"/><circle cx="37.3" cy="96.0" r="5.9" fill="#f9b781" opacity=".38"/><circle cx="37.3" cy="96.0" r="4.1" fill="#ffeccb" stroke="#deb38a" stroke-width="2.1"/><circle cx="91.0" cy="111.9" r="5.9" fill="#f9b781" opacity=".38"/><circle cx="91.0" cy="111.9" r="4.1" fill="#ffeccb" stroke="#deb38a" stroke-width="2.1"/><circle cx="144.8" cy="127.6" r="5.9" fill="#f9b781" opacity=".38"/><circle cx="144.8" cy="127.6" r="4.1" fill="#ffeccb" stroke="#deb38a" stroke-width="2.1"/><circle cx="197.8" cy="88.5" r="5.9" fill="#f9b781" opacity=".38"/><circle cx="197.8" cy="88.5" r="4.1" fill="#ffeccb" stroke="#deb38a" stroke-width="2.1"/><circle cx="251.3" cy="101.8" r="5.9" fill="#f9b781" opacity=".38"/><circle cx="251.3" cy="101.8" r="4.1" fill="#ffeccb" stroke="#deb38a" stroke-width="2.1"/><circle cx="304.8" cy="110.4" r="5.9" fill="#f9b781" opacity=".38"/><circle cx="304.8" cy="110.4" r="4.1" fill="#ffeccb" stroke="#deb38a" stroke-width="2.1"/><circle cx="358.5" cy="105.7" r="5.9" fill="#f9b781" opacity=".38"/><circle cx="358.5" cy="105.7" r="4.1" fill="#ffeccb" stroke="#deb38a" stroke-width="2.1"/><circle cx="411.8" cy="123.7" r="5.9" fill="#f9b781" opacity=".38"/><circle cx="411.8" cy="123.7" r="4.1" fill="#ffeccb" stroke="#deb38a" stroke-width="2.1"/><circle cx="465.6" cy="83.1" r="5.9" fill="#f9b781" opacity=".38"/><circle cx="465.6" cy="83.1" r="4.1" fill="#ffeccb" stroke="#deb38a" stroke-width="2.1"/><circle cx="519.1" cy="99.7" r="5.9" fill="#f9b781" opacity=".38"/><circle cx="519.1" cy="99.7" r="4.1" fill="#ffeccb" stroke="#deb38a" stroke-width="2.1"/><circle cx="572.4" cy="120.1" r="5.9" fill="#f9b781" opacity=".38"/><circle cx="572.4" cy="120.1" r="4.1" fill="#ffeccb" stroke="#deb38a" stroke-width="2.1"/><circle cx="626.1" cy="127.6" r="5.9" fill="#f9b781" opacity=".38"/><circle cx="626.1" cy="127.6" r="4.1" fill="#ffeccb" stroke="#deb38a" stroke-width="2.1"/><polyline points="37.3,60.5 91.0,91.7 144.8,122.2 197.8,45.9 251.3,71.1 304.8,88.9 358.5,79.9 411.8,115.8 465.6,35.2 519.1,67.8 572.4,108.2 626.1,122.6" fill="none" stroke="rgba(90,100,110,.13)" stroke-width="3.4" transform="translate(0.4,1.7)"/><polyline points="37.3,60.5 91.0,91.7 144.8,122.2 197.8,45.9 251.3,71.1 304.8,88.9 358.5,79.9 411.8,115.8 465.6,35.2 519.1,67.8 572.4,108.2 626.1,122.6" fill="none" stroke="#5cd890" stroke-width="3.1" stroke-linejoin="round"/><polyline points="37.3,60.5 91.0,91.7 144.8,122.2 197.8,45.9 251.3,71.1 304.8,88.9 358.5,79.9 411.8,115.8 465.6,35.2 519.1,67.8 572.4,108.2 626.1,122.6" fill="none" stroke="rgba(70,95,85,.30)" stroke-width="1.5" stroke-linejoin="round" transform="translate(0,0.3)"/><circle cx="37.3" cy="60.5" r="5.9" fill="#5cd890" opacity=".38"/><circle cx="37.3" cy="60.5" r="4.1" fill="#bdf7d1" stroke="#7abb95" stroke-width="2.1"/><circle cx="91.0" cy="91.7" r="5.9" fill="#5cd890" opacity=".38"/><circle cx="91.0" cy="91.7" r="4.1" fill="#bdf7d1" stroke="#7abb95" stroke-width="2.1"/><circle cx="144.8" cy="122.2" r="5.9" fill="#5cd890" opacity=".38"/><circle cx="144.8" cy="122.2" r="4.1" fill="#bdf7d1" stroke="#7abb95" stroke-width="2.1"/><circle cx="197.8" cy="45.9" r="5.9" fill="#5cd890" opacity=".38"/><circle cx="197.8" cy="45.9" r="4.1" fill="#bdf7d1" stroke="#7abb95" stroke-width="2.1"/><circle cx="251.3" cy="71.1" r="5.9" fill="#5cd890" opacity=".38"/><circle cx="251.3" cy="71.1" r="4.1" fill="#bdf7d1" stroke="#7abb95" stroke-width="2.1"/><circle cx="304.8" cy="88.9" r="5.9" fill="#5cd890" opacity=".38"/><circle cx="304.8" cy="88.9" r="4.1" fill="#bdf7d1" stroke="#7abb95" stroke-width="2.1"/><circle cx="358.5" cy="79.9" r="5.9" fill="#5cd890" opacity=".38"/><circle cx="358.5" cy="79.9" r="4.1" fill="#bdf7d1" stroke="#7abb95" stroke-width="2.1"/><circle cx="411.8" cy="115.8" r="5.9" fill="#5cd890" opacity=".38"/><circle cx="411.8" cy="115.8" r="4.1" fill="#bdf7d1" stroke="#7abb95" stroke-width="2.1"/><circle cx="465.6" cy="35.2" r="5.9" fill="#5cd890" opacity=".38"/><circle cx="465.6" cy="35.2" r="4.1" fill="#bdf7d1" stroke="#7abb95" stroke-width="2.1"/><circle cx="519.1" cy="67.8" r="5.9" fill="#5cd890" opacity=".38"/><circle cx="519.1" cy="67.8" r="4.1" fill="#bdf7d1" stroke="#7abb95" stroke-width="2.1"/><circle cx="572.4" cy="108.2" r="5.9" fill="#5cd890" opacity=".38"/><circle cx="572.4" cy="108.2" r="4.1" fill="#bdf7d1" stroke="#7abb95" stroke-width="2.1"/><circle cx="626.1" cy="122.6" r="5.9" fill="#5cd890" opacity=".38"/><circle cx="626.1" cy="122.6" r="4.1" fill="#bdf7d1" stroke="#7abb95" stroke-width="2.1"/></svg>
</div></body></html>
